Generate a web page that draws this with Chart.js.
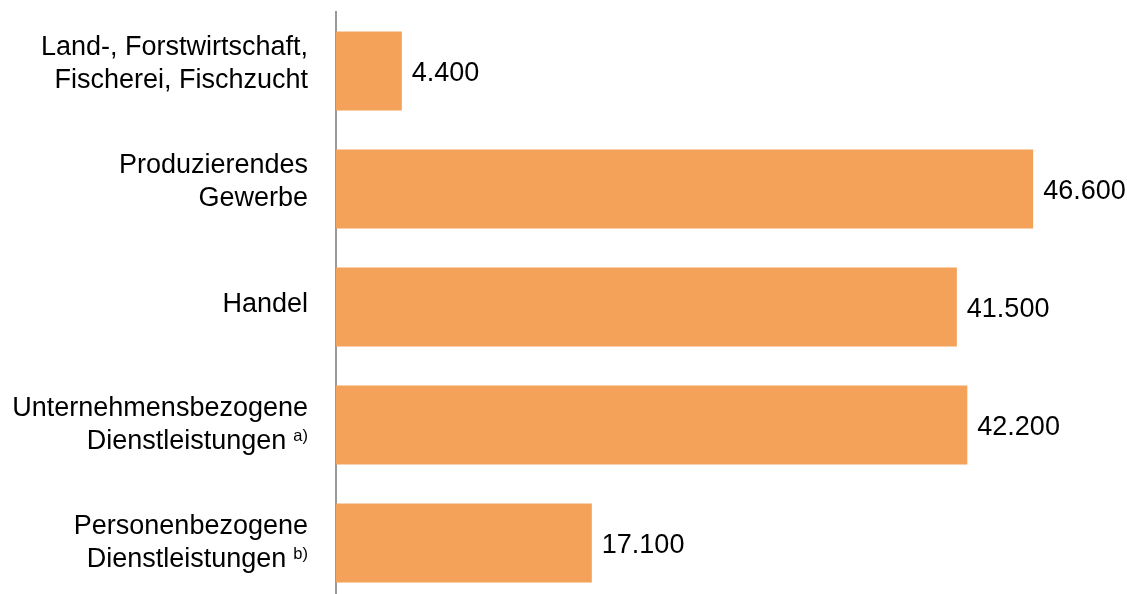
<!DOCTYPE html>
<html>
<head>
<meta charset="utf-8">
<script src="https://cdn.jsdelivr.net/npm/chart.js@4.4.1/dist/chart.umd.min.js"></script>
<style>
  html, body { margin: 0; padding: 0; background: #fff; overflow: hidden; }
  #wrap { width: 1127px; height: 602px; position: relative; }
</style>
</head>
<body>
<div id="wrap"><canvas id="branchenChart"></canvas></div>
<script>
const categories = [
  ['Land-, Forstwirtschaft,', 'Fischerei, Fischzucht'],
  ['Produzierendes', 'Gewerbe'],
  ['Handel'],
  ['Unternehmensbezogene', 'Dienstleistungen'],
  ['Personenbezogene', 'Dienstleistungen']
];
const footnotes = ['', '', '', 'a)', 'b)'];
const values = [4400, 46600, 41500, 42200, 17100];

const FONT = '"Liberation Sans", Arial, sans-serif';

function formatDe(v) {
  return String(v).replace(/\B(?=(\d{3})+(?!\d))/g, '.');
}

// draws category labels (with superscript footnotes) and value labels
const labelPlugin = {
  id: 'labels',
  afterDatasetsDraw(chart) {
    const ctx = chart.ctx;
    const yScale = chart.scales.y;
    const bars = chart.getDatasetMeta(0).data;
    ctx.save();
    ctx.fillStyle = '#000';
    ctx.textBaseline = 'alphabetic';

    categories.forEach(function(lines, i) {
      const c = yScale.getPixelForValue(i);
      const note = footnotes[i];
      let base = lines.length === 1 ? c + 5 : c - 16 + (note ? 7 : 0);
      const right = 308;
      lines.forEach(function(line, j) {
        const y = base + j * 32.5;
        let x = right;
        if (note && j === lines.length - 1) {
          ctx.font = '16.5px ' + FONT;
          ctx.textAlign = 'right';
          ctx.fillText(note, right, y - 8);
          x = right - ctx.measureText(note).width - 7;
        }
        ctx.font = '27px ' + FONT;
        ctx.textAlign = 'right';
        ctx.fillText(line, x, y);
      });
    });

    ctx.font = '27px ' + FONT;
    ctx.textAlign = 'left';
    bars.forEach(function(bar, i) {
      ctx.fillText(formatDe(values[i]), bar.x + 10, bar.y + 10);
    });
    ctx.restore();
  }
};

const ctx = document.getElementById('branchenChart').getContext('2d');
const branchenChart = new Chart(ctx, {
  type: 'bar',
  data: {
    labels: categories.map(function(l) { return l.join(' '); }),
    datasets: [{
      data: values,
      backgroundColor: '#F4A259',
      borderWidth: 0,
      barPercentage: 0.67,
      categoryPercentage: 1
    }]
  },
  options: {
    indexAxis: 'y',
    responsive: true,
    maintainAspectRatio: false,
    animation: false,
    layout: {
      padding: { left: 336, right: 43, top: 12, bottom: 0 }
    },
    plugins: {
      legend: { display: false },
      tooltip: { enabled: false }
    },
    scales: {
      x: {
        display: false,
        min: 0,
        max: 50000
      },
      y: {
        grid: { display: false, drawTicks: false },
        border: { display: true, color: '#999999', width: 2 },
        ticks: { display: false }
      }
    }
  },
  plugins: [labelPlugin]
});
</script>
</body>
</html>
